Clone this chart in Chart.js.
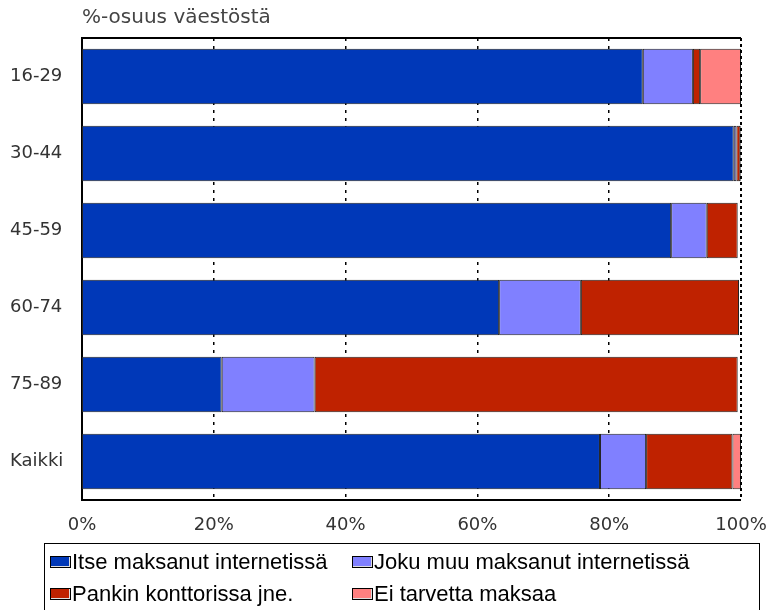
<!DOCTYPE html>
<html>
<head>
<meta charset="utf-8">
<script src="https://cdn.jsdelivr.net/npm/chart.js@4"></script>
<style>
    body { margin: 0; background: #fff; }
    #wrap { position: relative; width: 768px; height: 610px; overflow: hidden; }
    #legend {
        position: absolute; left: 44px; top: 543px; width: 716px; height: 72px;
        border: 1px solid #000; box-sizing: border-box;
        font-family: "Liberation Sans", Arial, sans-serif; font-size: 22px; color: #000;
    }
    .item { position: absolute; display: flex; align-items: center; white-space: nowrap; line-height: 24px; }
    .box { width: 19px; height: 10px; border: 1px solid #000; margin-right: 1px; box-shadow: inset -1px -1px 0 #ddd; }
</style>
</head>
<body>
<div id="wrap">
    <canvas id="chart" width="768" height="610"></canvas>
    <div id="legend"></div>
</div>
<script>
// data
var categories = ["16-29", "30-44", "45-59", "60-74", "75-89", "Kaikki"];
var seriesNames = ["Itse maksanut internetissä", "Joku muu maksanut internetissä", "Pankin konttorissa jne.", "Ei tarvetta maksaa"];
var itse = [85.1, 98.9, 89.4, 63.3, 21.2, 78.6];
var jokuMuu = [7.6, 0.4, 5.4, 12.4, 14.1, 7.0];
var pankki = [1.1, 0.6, 4.7, 24.0, 64.2, 13.1];
var eiTarvetta = [6.2, 0.1, 0.0, 0.0, 0.0, 1.3];
var xTicks = [0, 20, 40, 60, 80, 100];
var colors = ["#0038B8", "#8080FF", "#BF2200", "#FF8080"];
var title = "%-osuus väestöstä";

var values = [itse, jokuMuu, pankki, eiTarvetta];
var font = "'DejaVu Sans', Verdana, sans-serif";

// title drawn above the plot, left aligned to it
var titlePlugin = {
    id: 'topTitle',
    afterDraw: function (chart) {
        var ctx = chart.ctx;
        ctx.save();
        ctx.font = "20px " + font;
        ctx.fillStyle = "#444";
        ctx.textBaseline = "middle";
        ctx.fillText(title, chart.chartArea.left, 18);
        ctx.restore();
    }
};

// top border line + dashed right edge (100%)
var frame = {
    id: 'frame',
    afterDatasetsDraw: function (chart) {
        var ctx = chart.ctx, a = chart.chartArea;
        ctx.save();
        ctx.strokeStyle = "#000";
        ctx.lineWidth = 2;
        ctx.beginPath();
        ctx.moveTo(a.left, a.top);
        ctx.lineTo(a.right, a.top);
        ctx.stroke();
        ctx.setLineDash([3, 3]);
        ctx.beginPath();
        ctx.moveTo(a.right, a.top);
        ctx.lineTo(a.right, a.bottom);
        ctx.stroke();
        ctx.restore();
    }
};

var ctx = document.getElementById('chart').getContext('2d');
new Chart(ctx, {
    type: 'bar',
    data: {
        labels: categories,
        datasets: seriesNames.map(function (name, i) {
            return {
                label: name,
                data: values[i],
                backgroundColor: colors[i],
                borderColor: "#222",
                borderWidth: 1,
                borderSkipped: false,
                barPercentage: 0.72,
                categoryPercentage: 1
            };
        })
    },
    options: {
        indexAxis: 'y',
        responsive: false,
        animation: false,
        layout: { padding: { left: 10, top: 38, right: 0, bottom: 75 } },
        plugins: {
            legend: { display: false },
            tooltip: { enabled: false }
        },
        scales: {
            x: {
                stacked: true,
                min: 0, max: 100,
                afterBuildTicks: function (scale) {
                    scale.ticks = xTicks.map(function (v) { return { value: v }; });
                },
                afterFit: function (scale) {
                    scale.height = 35;
                    scale.paddingLeft = 0;
                    scale.paddingRight = 27;
                },
                grid: {
                    color: "#000",
                    lineWidth: function (c) { return (c.tick && (c.tick.value === 0 || c.tick.value === 100)) ? 0 : 1.5; },
                    drawTicks: false
                },
                border: { display: true, color: "#000", width: 2, dash: [3, 5] },
                ticks: {
                    padding: 15,
                    color: "#333",
                    font: { family: font, size: 18 },
                    callback: function (v) { return v + "%"; }
                }
            },
            y: {
                stacked: true,
                afterFit: function (scale) { scale.width = 72; },
                grid: { display: false },
                border: { display: true, color: "#000", width: 2 },
                ticks: {
                    crossAlign: 'far',
                    color: "#333",
                    font: { family: font, size: 18 }
                }
            }
        }
    },
    plugins: [titlePlugin, frame]
});

// legend built from series arrays
var legend = document.getElementById('legend');
var pos = [[5, 6], [307, 6], [5, 38], [307, 38]];
seriesNames.forEach(function (name, i) {
    var el = document.createElement('div');
    el.className = 'item';
    el.style.left = pos[i][0] + 'px';
    el.style.top = pos[i][1] + 'px';
    el.innerHTML = '<span class="box" style="background:' + colors[i] + '"></span>' + name;
    legend.appendChild(el);
});
</script>
</body>
</html>
